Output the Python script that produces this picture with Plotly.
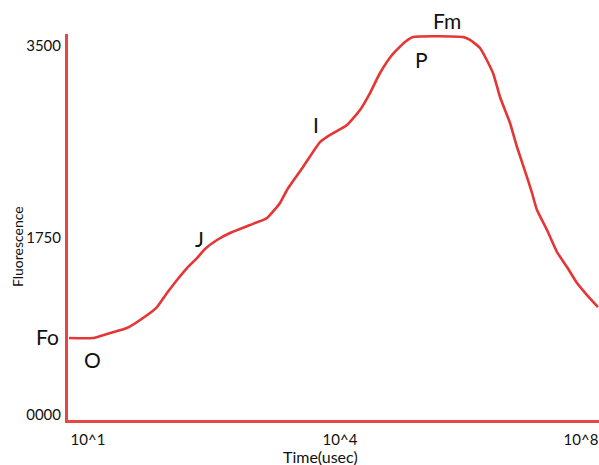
import plotly.graph_objects as go

# Curve (x: position along the log-time axis, y: fluorescence)
time_pos = [1, 25, 42, 59, 75, 89, 99, 109, 119, 129, 137, 149, 162, 182, 199, 212,
            219, 235, 252, 262, 279, 292, 302, 312, 324, 337, 345, 395, 402, 412, 425,
            432, 442, 449, 459, 464, 469, 479, 489, 499, 509, 519, 530]
fluor = [730, 730, 778, 825, 920, 1024, 1157, 1281, 1394, 1489, 1575, 1660, 1726, 1802,
         1869, 2011, 2134, 2352, 2589, 2656, 2751, 2893, 3054, 3244, 3415, 3538, 3585,
         3585, 3557, 3481, 3244, 3016, 2770, 2542, 2257, 2106, 1944, 1755, 1546, 1404,
         1252, 1138, 1024]

x_tick_pos = [20, 272, 513]
x_tick_text = ["10^1", "10^4", "10^8"]
y_tick_pos = [0, 1679, 3500]
y_tick_text = ["0000", "1750", "3500"]

# Point labels (text, x, y)
lbl_text = ["Fo", "O", "J", "I", "P", "Fm"]
lbl_x = [-21, 24, 131, 248, 353, 379]
lbl_y = [740, 522, 1670, 2754, 3371, 3746]

X_RANGE = [0, 531]
Y_RANGE = [-47.4, 3613.8]

font_family = "Lato, 'Open Sans', sans-serif"

fig = go.Figure()
fig.add_trace(go.Scatter(
    x=time_pos, y=fluor, mode="lines",
    line=dict(color="#e53535", width=2.6, shape="spline", smoothing=0.5),
    hoverinfo="skip", showlegend=False, cliponaxis=False))

for t, x, y in zip(lbl_text, lbl_x, lbl_y):
    fig.add_annotation(
        x=(x - X_RANGE[0]) / (X_RANGE[1] - X_RANGE[0]),
        y=(y - Y_RANGE[0]) / (Y_RANGE[1] - Y_RANGE[0]),
        xanchor="center", yanchor="middle",
        text=t, showarrow=False, xref="paper", yref="paper",
        font=dict(family=font_family, size=21, color="#111111"))

fig.add_annotation(text="Fluorescence", xref="paper", yref="paper", x=-0.096, y=0.448,
                   xanchor="center", yanchor="middle", textangle=-90, showarrow=False,
                   font=dict(family=font_family, size=14, color="#111111"))
fig.add_annotation(text="Time(usec)", xref="paper", yref="paper", x=0.475, y=-0.094,
                   xanchor="center", yanchor="middle", showarrow=False,
                   font=dict(family=font_family, size=16, color="#111111"))

fig.update_layout(
    width=599, height=465,
    margin=dict(l=68, r=0, t=34, b=45),
    paper_bgcolor="white", plot_bgcolor="white",
    xaxis=dict(range=X_RANGE, showgrid=False, zeroline=False, showline=True,
               linecolor="#e84545", linewidth=3, ticks="",
               tickvals=x_tick_pos, ticktext=x_tick_text, ticklabelstandoff=4,
               tickfont=dict(family=font_family, size=15, color="#111111")),
    yaxis=dict(range=Y_RANGE, showgrid=False, zeroline=False, showline=True,
               linecolor="#e84545", linewidth=3, ticks="",
               tickvals=y_tick_pos, ticktext=y_tick_text, ticklabelstandoff=1,
               tickfont=dict(family=font_family, size=15, color="#111111")),
)

fig.write_html(
    "out.html",
    config={"displayModeBar": False},
    post_script="document.body.style.margin='0';"
                "document.documentElement.style.overflow='hidden';"
                "document.body.style.overflow='hidden';")
